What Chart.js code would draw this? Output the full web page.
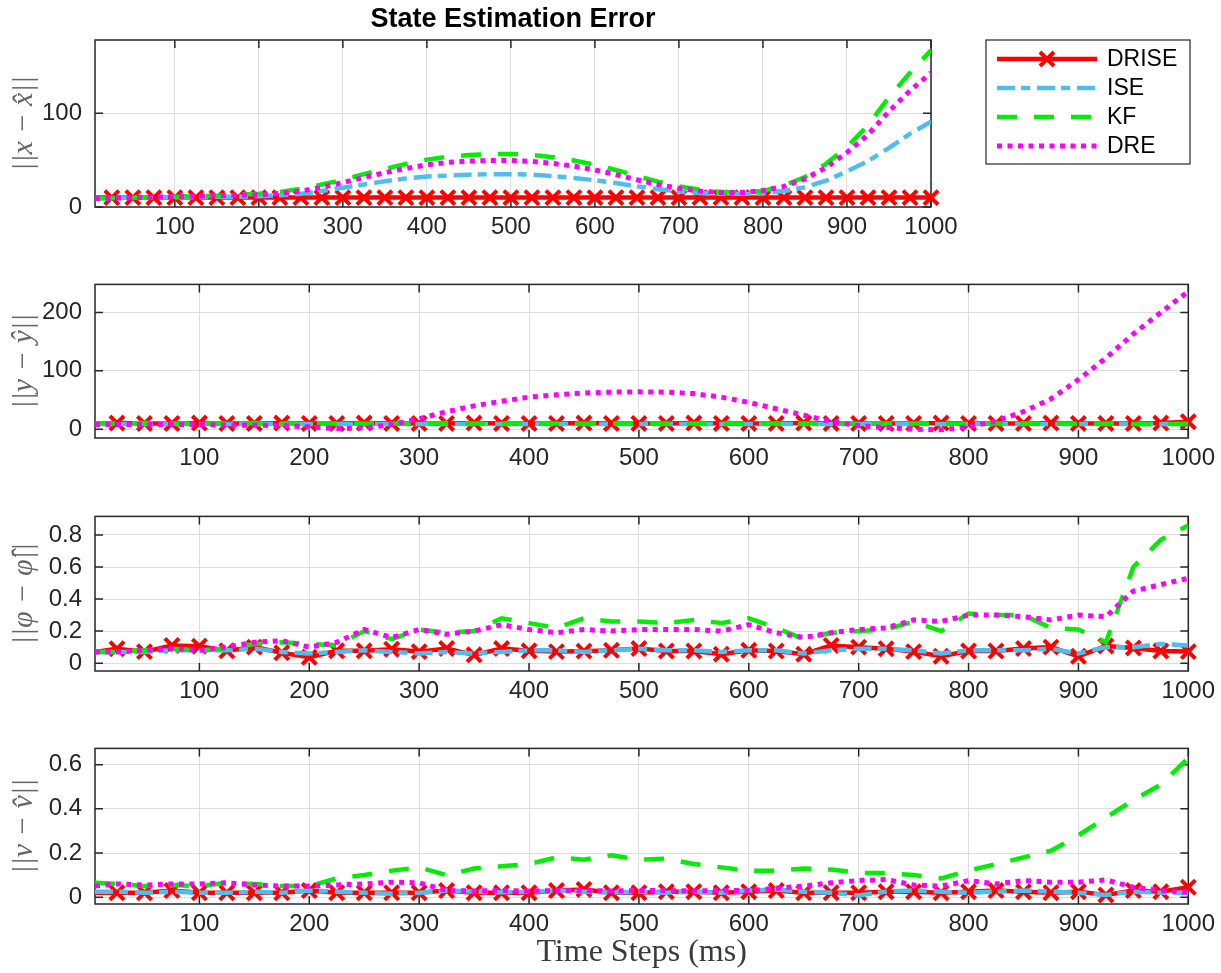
<!DOCTYPE html>
<html>
<head>
<meta charset="utf-8">
<script src="https://cdn.jsdelivr.net/npm/chart.js@4.4.1/dist/chart.umd.min.js"></script>
<style>
html,body{margin:0;padding:0;background:#fff;width:1221px;height:973px;overflow:hidden;position:relative}
canvas{position:absolute;left:0}
</style>
</head>
<body>
<canvas id="c1"></canvas>
<canvas id="c2"></canvas>
<canvas id="c3"></canvas>
<canvas id="c4"></canvas>
<script>
// ---------------- DATA ----------------
const timeSteps = [5,25,50,75,100,125,150,175,200,225,250,275,300,325,350,375,400,425,450,475,500,525,550,575,600,625,650,675,700,725,750,775,800,825,850,875,900,925,950,975,1000];
const xTickValues = [100,200,300,400,500,600,700,800,900,1000];
const seriesNames = ['DRISE','ISE','KF','DRE'];

// ||x - x_hat||
const x_DRISE = [10,10,10,10,10,10,10,10,10,10,10,10,10,10,10,10,10,10,10,10,10,10,10,10,10,10,10,10,10,10,10,10,10,10,10,10,10,10,10,10,10];
const x_ISE   = [9,9.5,10,10,10.5,10.5,11,11,11.5,12.5,14,17,20.5,24,27.5,30.5,32.5,33.5,34.5,35,35,34.5,33,31,28.5,25.5,22,19,16.5,15,14,14,14.5,17,21,28,38,49,63,78,91];
const x_KF    = [9,9.5,10,10.5,11,11.5,12,13,14,16,19.5,24,29,35,40.5,46,50.5,53.5,55.5,56.5,56.5,55.5,53,49.5,45,39.5,33,27,22,18.5,16,15.5,17,23,32,46,64,87,117,143,167];
const x_DRE   = [9,9.5,10,10.5,11,11.5,12,12.5,13,14.5,17,21,26,31.5,36.5,41,45,47.5,49,49.5,49.5,48.5,46.5,43.5,39.5,34.5,29,24,20,17,15.5,15.5,17.5,22,30,42,58,77,102,124,143];
const xTicksY = [0,100];

// ||y - y_hat||
const y_DRISE = [10,10.5,10,10,10.5,10,10,10.5,10,10,10.5,10,10,10,10.5,10,10,10,10.5,10,10,10,10.5,10,10,10,10.5,10,10,10,10,10.5,10,10,10,10.5,10,10,10,10.5,13];
const y_ISE   = [9,9,9,9,9,9,9,9,9,9,9,9,9,9,9,9,9,9,9,9,9,9,9,9,9,9,9,9,9,9,9,9,9,9,9,9,9,9,9,9,9];
const y_KF    = [10,10,10.5,10,10,10,10.5,10,10,10,9.5,10,10,10.5,10,10,10,10,9.5,10,10,10,10,10,9.5,10,10,10,10,10,10,10,9.5,10,10,10,9.5,9.5,9,9,9];
const y_DRE   = [8,8,8,8,8,7,7,6,4,1,2,8,18,30,40,48,55,59,62,63.5,64,63.5,61,55,46,35,24,13,6,3,0,-1,4,14,30,52,85,122,163,200,236];
const yTicksY = [0,100,200];

// ||phi - phi_hat||
const phi_DRISE = [.07,.09,.072,.11,.106,.077,.10,.065,.037,.077,.077,.087,.072,.091,.052,.091,.077,.072,.075,.08,.091,.076,.076,.056,.08,.076,.056,.11,.10,.09,.072,.043,.076,.076,.091,.10,.043,.107,.095,.076,.072];
const phi_ISE   = [.07,.07,.07,.08,.08,.08,.09,.07,.06,.07,.08,.07,.06,.07,.06,.07,.08,.08,.07,.08,.09,.08,.08,.07,.08,.08,.06,.08,.09,.09,.08,.06,.08,.08,.08,.09,.06,.10,.10,.12,.11];
const phi_KF    = [.07,.07,.08,.09,.08,.09,.12,.13,.12,.11,.20,.15,.21,.19,.20,.28,.25,.22,.28,.26,.26,.25,.27,.25,.28,.22,.15,.19,.20,.21,.26,.20,.31,.30,.30,.22,.21,.13,.60,.77,.86];
const phi_DRE   = [.07,.07,.08,.09,.08,.10,.13,.14,.10,.13,.21,.16,.21,.18,.20,.24,.21,.19,.21,.20,.21,.21,.21,.20,.24,.19,.16,.19,.21,.22,.27,.26,.30,.30,.29,.27,.30,.29,.45,.49,.53];
const phiTicksY = [0,0.2,0.4,0.6,0.8];

// ||v - v_hat||
const v_DRISE = [.02,.02,.02,.03,.02,.02,.02,.02,.03,.02,.02,.02,.02,.03,.02,.02,.02,.03,.035,.02,.02,.025,.025,.02,.025,.03,.02,.02,.02,.025,.025,.02,.025,.03,.025,.02,.025,.01,.03,.025,.045];
const v_ISE   = [.025,.025,.02,.025,.02,.02,.025,.02,.03,.025,.02,.015,.02,.03,.025,.022,.025,.03,.025,.02,.025,.02,.025,.02,.03,.035,.025,.02,.008,.025,.03,.025,.02,.025,.03,.025,.02,.01,.025,.02,.02];
const v_KF    = [.065,.06,.05,.055,.05,.065,.06,.05,.05,.085,.10,.12,.135,.10,.13,.14,.15,.18,.17,.19,.17,.175,.15,.135,.12,.12,.13,.125,.11,.11,.10,.085,.12,.15,.18,.21,.28,.36,.44,.51,.63];
const v_DRE   = [.05,.06,.055,.06,.06,.065,.055,.05,.05,.055,.06,.068,.065,.03,.028,.03,.028,.03,.03,.028,.03,.03,.028,.03,.03,.04,.05,.065,.075,.08,.055,.05,.075,.06,.075,.068,.068,.078,.045,.03,.022];
const vTicksY = [0,0.2,0.4,0.6];

// ---------------- STYLE / LAYOUT ----------------
const SANS = "'Liberation Sans', Arial, Helvetica, sans-serif";
const SERIF = "'Liberation Serif', 'DejaVu Serif', serif";
const styles = [
  {color:'#ff0000', dash:[], width:4.5, marker:true},
  {color:'#4dbeee', dash:[18,6,9,7], width:4.5},
  {color:'#00ee00', dash:[20,17], width:4.5},
  {color:'#ff00ff', dash:[5,5.5], width:5}
];

const panels = [
  {id:'c1', top:40,  bottom:207, right:931,  padTop:40, padBottom:40, yMin:0,      yMax:178,   yTicks:xTicksY,   yTitle:'||x − x̂||', series:[x_DRISE,x_ISE,x_KF,x_DRE], title:'State Estimation Error', legend:true},
  {id:'c2', top:273, bottom:438, right:1190, padTop:16, padBottom:40, yMin:-15,    yMax:248,   yTicks:yTicksY,   yTitle:'||y − ŷ||', series:[y_DRISE,y_ISE,y_KF,y_DRE]},
  {id:'c3', top:505, bottom:671, right:1190, padTop:16, padBottom:40, yMin:-0.049, yMax:0.916, yTicks:phiTicksY, yTitle:'||φ − φ̂||', series:[phi_DRISE,phi_ISE,phi_KF,phi_DRE]},
  {id:'c4', top:737, bottom:904, right:1190, padTop:16, padBottom:69, yMin:-0.031, yMax:0.674, yTicks:vTicksY,   yTitle:'||v − v̂||', series:[v_DRISE,v_ISE,v_KF,v_DRE], xTitle:'Time Steps (ms)'}
];

const axesBox = {
  id:'axesBox',
  beforeDatasetsDraw(chart){
    const {ctx, chartArea:a, scales:{x,y}} = chart;
    ctx.save();
    ctx.strokeStyle = '#262626';
    ctx.lineWidth = 1.5;
    ctx.setLineDash([]);
    ctx.strokeRect(a.left, a.top, a.right - a.left, a.bottom - a.top);
    const L = 8;
    ctx.beginPath();
    x.ticks.forEach(t => {
      const p = x.getPixelForValue(t.value);
      ctx.moveTo(p, a.top); ctx.lineTo(p, a.top + L);
      ctx.moveTo(p, a.bottom); ctx.lineTo(p, a.bottom - L);
    });
    y.ticks.forEach(t => {
      const p = y.getPixelForValue(t.value);
      ctx.moveTo(a.left, p); ctx.lineTo(a.left + L, p);
      ctx.moveTo(a.right, p); ctx.lineTo(a.right - L, p);
    });
    ctx.stroke();
    ctx.restore();
  }
};

const boxLegend = {
  id:'boxLegend',
  afterDraw(chart, args, opts){
    if (!opts.show) return;
    const ctx = chart.ctx;
    const bx = 986, by = 40, bw = 204, bh = 124;
    ctx.save();
    ctx.fillStyle = '#fff';
    ctx.fillRect(bx, by, bw, bh);
    ctx.strokeStyle = '#262626';
    ctx.lineWidth = 1.2;
    ctx.strokeRect(bx, by, bw, bh);
    chart.data.datasets.forEach((ds, i) => {
      const yy = by + 19 + i * 29;
      ctx.strokeStyle = ds.borderColor;
      ctx.lineWidth = ds.borderWidth;
      ctx.setLineDash(ds.borderDash || []);
      ctx.beginPath(); ctx.moveTo(bx + 11, yy); ctx.lineTo(bx + 111, yy); ctx.stroke();
      ctx.setLineDash([]);
      if (i === 0) {
        const r = 7, cx = bx + 61;
        ctx.lineWidth = 4;
        ctx.beginPath();
        ctx.moveTo(cx - r, yy - r); ctx.lineTo(cx + r, yy + r);
        ctx.moveTo(cx + r, yy - r); ctx.lineTo(cx - r, yy + r);
        ctx.stroke();
      }
      ctx.fillStyle = '#000';
      ctx.font = '23px ' + SANS;
      ctx.textBaseline = 'middle';
      ctx.textAlign = 'left';
      ctx.fillText(ds.label, bx + 121, yy + 1);
    });
    ctx.restore();
  }
};

panels.forEach(p => {
  const cv = document.getElementById(p.id);
  const H = p.padTop + (p.bottom - p.top) + p.padBottom;
  cv.width = 1221; cv.height = H;
  cv.style.top = (p.top - p.padTop) + 'px';
  cv.style.width = '1221px'; cv.style.height = H + 'px';

  const datasets = p.series.map((vals, i) => {
    const s = styles[i];
    const d = {
      label: seriesNames[i],
      data: timeSteps.map((t, k) => ({x: t, y: vals[k]})),
      borderColor: s.color,
      backgroundColor: s.color,
      borderWidth: s.width,
      borderDash: s.dash,
      borderCapStyle: 'butt',
      fill: false,
      tension: 0,
      pointRadius: 0,
      order: 4 - i
    };
    if (s.marker) {
      d.pointStyle = 'crossRot';
      d.pointRadius = c => (c.raw && c.raw.x % 25 === 0) ? 10 : 0;
      d.pointBorderWidth = 4;
      d.pointBorderColor = s.color;
      d.clip = false;
    }
    return d;
  });

  new Chart(cv, {
    type: 'line',
    data: {datasets},
    options: {
      responsive: false,
      maintainAspectRatio: false,
      devicePixelRatio: 1,
      animation: false,
      events: [],
      layout: {padding: {left: 0, right: 1221 - p.right, top: p.title ? 0 : p.padTop, bottom: 0}},
      plugins: {
        legend: {display: false},
        tooltip: {enabled: false},
        title: p.title ? {
          display: true, text: p.title, fullSize: false, color: '#000',
          font: {family: SANS, size: 27, weight: 'bold'},
          padding: {top: 3, bottom: 4.6}
        } : {display: false},
        boxLegend: {show: !!p.legend}
      },
      scales: {
        x: {
          type: 'linear', min: 5, max: 1000,
          afterBuildTicks: s => { s.ticks = xTickValues.map(v => ({value: v})); },
          afterFit: s => { s.height = p.padBottom; },
          grid: {color: '#dedede', lineWidth: 1, drawTicks: false},
          border: {display: false},
          ticks: {color: '#262626', font: {family: SANS, size: 24}, padding: 6, maxRotation: 0, autoSkip: false, callback: v => String(v)},
          title: p.xTitle ? {display: true, text: p.xTitle, color: '#3a3a3a', font: {family: SERIF, size: 32}, padding: {top: 0, bottom: 1}} : {display: false}
        },
        y: {
          type: 'linear', min: p.yMin, max: p.yMax,
          afterBuildTicks: s => { s.ticks = p.yTicks.map(v => ({value: v})); },
          afterFit: s => { s.width = 95; },
          grid: {color: '#dedede', lineWidth: 1, drawTicks: false},
          border: {display: false},
          ticks: {color: '#262626', font: {family: SANS, size: 24}, padding: 13, autoSkip: false, callback: v => String(v)},
          title: {display: true, text: p.yTitle, color: '#666', font: {family: SERIF, size: 30, style: 'italic'}, padding: {top: 6, bottom: 0}}
        }
      }
    },
    plugins: [axesBox, boxLegend]
  });
});
</script>
</body>
</html>
